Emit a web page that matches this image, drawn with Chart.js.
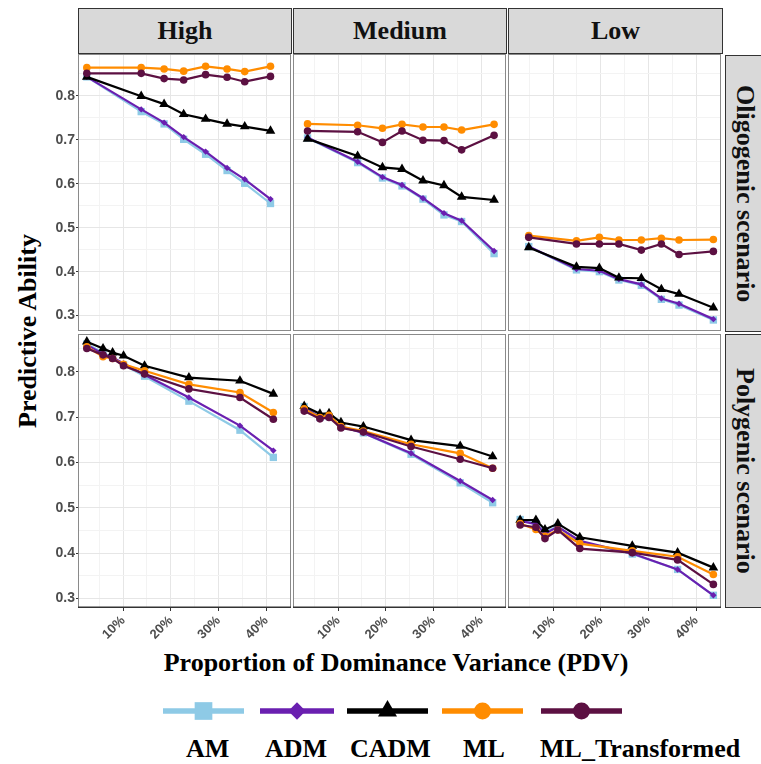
<!DOCTYPE html>
<html>
<head>
<meta charset="utf-8">
<script src="https://cdn.jsdelivr.net/npm/chart.js@4.4.0/dist/chart.umd.min.js"></script>
<style>
  body { margin: 0; background: #fff; }
  #page { position: relative; width: 761px; height: 764px; overflow: hidden; background: #fff; }
  canvas { position: absolute; }
  .strip {
    position: absolute; box-sizing: border-box; background: #d9d9d9; border: 1.5px solid #333;
    display: flex; align-items: center; justify-content: center;
    font: bold 26px "Liberation Serif", "Times New Roman", serif; color: #111;
  }
  .vstrip { writing-mode: vertical-rl; }
  .txt { position: absolute; font: bold 26px "Liberation Serif", "Times New Roman", serif; color: #000; white-space: nowrap; }
</style>
</head>
<body>
<div id="page">
  <div class="strip" style="left:78px;top:8px;width:214px;height:46px;">High</div>
  <div class="strip" style="left:293px;top:8px;width:214px;height:46px;">Medium</div>
  <div class="strip" style="left:508px;top:8px;width:215px;height:46px;">Low</div>
  <div class="strip vstrip" style="left:725px;top:55px;width:40px;height:277px;">Oligogenic scenario</div>
  <div class="strip vstrip" style="left:725px;top:334px;width:40px;height:274px;">Polygenic scenario</div>
  <div class="txt" style="left:13px;top:331px;transform:translate(0,-50%) rotate(180deg);writing-mode:vertical-rl;">Predictive Ability</div>
  <div class="txt" style="left:396px;top:663px;transform:translate(-50%,-50%);">Proportion of Dominance Variance (PDV)</div>
  <div class="txt" style="left:186px;top:734px;">AM</div>
  <div class="txt" style="left:265px;top:734px;">ADM</div>
  <div class="txt" style="left:350px;top:734px;">CADM</div>
  <div class="txt" style="left:463px;top:734px;">ML</div>
  <div class="txt" style="left:540px;top:734px;">ML_Transformed</div>
  <canvas id="legend" width="520" height="40" style="left:150px;top:691px;"></canvas>
</div>

<script>
// 値は図から読み取ったもの (x = PDV %, y = 予測能力)
const models = ["AM", "ADM", "CADM", "ML", "ML_Transformed"];

// Oligogenic - High
const pdvOH = [2.4, 13.8, 18.6, 22.7, 27.3, 31.8, 35.5, 40.9];
const amOH = [0.843, 0.764, 0.736, 0.701, 0.667, 0.630, 0.601, 0.555];
const admOH = [0.843, 0.769, 0.739, 0.706, 0.673, 0.636, 0.610, 0.565];
const cadmOH = [0.843, 0.799, 0.781, 0.758, 0.747, 0.736, 0.730, 0.720];
const mlOH = [0.864, 0.864, 0.861, 0.856, 0.867, 0.861, 0.855, 0.867];
const mltOH = [0.851, 0.851, 0.839, 0.836, 0.848, 0.842, 0.832, 0.844];

// Oligogenic - Medium
const pdvOM = [3.6, 14.1, 19.3, 23.4, 27.8, 32.2, 35.9, 42.7];
const amOM = [0.704, 0.648, 0.613, 0.595, 0.565, 0.529, 0.514, 0.441];
const admOM = [0.705, 0.650, 0.615, 0.597, 0.567, 0.533, 0.516, 0.447];
const cadmOM = [0.702, 0.663, 0.637, 0.633, 0.607, 0.596, 0.570, 0.563];
const mlOM = [0.736, 0.733, 0.726, 0.735, 0.729, 0.729, 0.722, 0.735];
const mltOM = [0.720, 0.718, 0.694, 0.720, 0.699, 0.698, 0.677, 0.710];

// Oligogenic - Low
const pdvOL = [4.9, 14.9, 19.7, 23.8, 28.5, 32.7, 36.4, 43.6];
const amOL = [0.457, 0.404, 0.400, 0.381, 0.369, 0.337, 0.324, 0.290];
const admOL = [0.457, 0.406, 0.402, 0.383, 0.371, 0.339, 0.327, 0.292];
const cadmOL = [0.455, 0.411, 0.408, 0.386, 0.385, 0.360, 0.349, 0.318];
const mlOL = [0.482, 0.470, 0.478, 0.472, 0.472, 0.476, 0.472, 0.473];
const mltOL = [0.478, 0.463, 0.463, 0.463, 0.449, 0.463, 0.439, 0.446];

// Polygenic - High
const pdvPH = [2.4, 5.8, 7.8, 10.1, 14.5, 23.8, 34.5, 41.5];
const amPH = [0.861, 0.842, 0.831, 0.815, 0.790, 0.735, 0.671, 0.611];
const admPH = [0.859, 0.839, 0.831, 0.818, 0.793, 0.743, 0.681, 0.626];
const cadmPH = [0.866, 0.851, 0.842, 0.835, 0.813, 0.787, 0.780, 0.751];
const mlPH = [0.855, 0.833, 0.829, 0.816, 0.802, 0.772, 0.754, 0.710];
const mltPH = [0.851, 0.837, 0.829, 0.813, 0.795, 0.762, 0.743, 0.695];

// Polygenic - Medium
const pdvPM = [2.9, 6.2, 8.1, 10.6, 15.3, 25.3, 35.6, 42.4];
const amPM = [0.723, 0.699, 0.701, 0.679, 0.665, 0.618, 0.555, 0.511];
const admPM = [0.721, 0.699, 0.701, 0.679, 0.665, 0.620, 0.559, 0.517];
const cadmPM = [0.724, 0.707, 0.708, 0.688, 0.679, 0.649, 0.636, 0.613];
const mlPM = [0.718, 0.699, 0.704, 0.679, 0.669, 0.640, 0.620, 0.587];
const mltPM = [0.713, 0.696, 0.699, 0.676, 0.667, 0.635, 0.607, 0.587];

// Polygenic - Low
const pdvPL = [3.1, 6.4, 8.3, 11.0, 15.6, 26.6, 36.1, 43.6];
const amPL = [0.474, 0.465, 0.447, 0.458, 0.425, 0.398, 0.364, 0.307];
const admPL = [0.471, 0.464, 0.443, 0.458, 0.427, 0.399, 0.364, 0.307];
const cadmPL = [0.473, 0.473, 0.452, 0.465, 0.435, 0.416, 0.401, 0.368];
const mlPL = [0.465, 0.452, 0.437, 0.451, 0.421, 0.405, 0.392, 0.353];
const mltPL = [0.462, 0.457, 0.432, 0.451, 0.410, 0.401, 0.385, 0.331];

// 軸の範囲と目盛り
const xRange = [0.55, 45.2];
const xTicks = [5, 10, 15, 20, 25, 30, 35, 40, 45];
const yRangeOligo = [0.265, 0.895];
const yRangePoly = [0.279, 0.883];
const yTicks = [0.25, 0.3, 0.35, 0.4, 0.45, 0.5, 0.55, 0.6, 0.65, 0.7, 0.75, 0.8, 0.85, 0.9];

// 見た目
const colors = ["#8ecae6", "#6a1fb0", "#000000", "#ff8c00", "#5c1042"];
const shapes = ["rect", "rectRot", "triangle", "circle", "circle"];
const radii = [5.2, 3.2, 5.6, 3.8, 3.8];

// パネルの位置（描画領域）
const colLeft = [78, 293, 508];
const panelW = 213;
const rowTop = [54, 334];
const rowH = [277, 274];
const xAxisH = 40;

const panels = [
  { row: 0, col: 0, x: pdvOH, s: [amOH, admOH, cadmOH, mlOH, mltOH] },
  { row: 0, col: 1, x: pdvOM, s: [amOM, admOM, cadmOM, mlOM, mltOM] },
  { row: 0, col: 2, x: pdvOL, s: [amOL, admOL, cadmOL, mlOL, mltOL] },
  { row: 1, col: 0, x: pdvPH, s: [amPH, admPH, cadmPH, mlPH, mltPH] },
  { row: 1, col: 1, x: pdvPM, s: [amPM, admPM, cadmPM, mlPM, mltPM] },
  { row: 1, col: 2, x: pdvPL, s: [amPL, admPL, cadmPL, mlPL, mltPL] },
];

const isMajorX = (v) => Math.round(v) % 10 === 0;
const isMajorY = (v) => Math.round(v * 100) % 10 === 0;

// パネル枠（と下段のx軸線）
const panelBorder = {
  id: "panelBorder",
  afterDatasetsDraw(chart, args, opts) {
    const { ctx, chartArea: a } = chart;
    ctx.save();
    ctx.strokeStyle = "#8a8a8a";
    ctx.lineWidth = 1;
    ctx.strokeRect(a.left + 0.5, a.top + 0.5, a.right - a.left - 1, a.bottom - a.top - 1);
    if (opts.axisLine) {
      ctx.strokeStyle = "#333";
      ctx.lineWidth = 1.5;
      ctx.beginPath();
      ctx.moveTo(a.left, a.bottom - 0.75);
      ctx.lineTo(a.right, a.bottom - 0.75);
      ctx.stroke();
    }
    ctx.restore();
  },
};

function makePanel(p) {
  const leftCol = p.col === 0;
  const bottomRow = p.row === 1;
  const yAxisW = leftCol ? colLeft[0] : 0;
  const canvas = document.createElement("canvas");
  canvas.width = yAxisW + panelW;
  canvas.height = rowH[p.row] + (bottomRow ? xAxisH : 0);
  canvas.style.left = (leftCol ? 0 : colLeft[p.col]) + "px";
  canvas.style.top = rowTop[p.row] + "px";
  document.getElementById("page").appendChild(canvas);

  const yRange = p.row === 0 ? yRangeOligo : yRangePoly;
  const datasets = models.map((m, k) => ({
    label: m,
    data: p.x.map((x, i) => ({ x: x, y: p.s[k][i] })),
    borderColor: colors[k],
    backgroundColor: colors[k],
    borderWidth: 2.2,
    pointStyle: shapes[k],
    pointRadius: radii[k],
    pointBorderWidth: 0,
    pointBackgroundColor: colors[k],
    tension: 0,
    order: 5 - k,
  }));

  new Chart(canvas, {
    type: "line",
    data: { datasets },
    options: {
      responsive: false,
      animation: false,
      devicePixelRatio: 1,
      layout: { padding: 0, autoPadding: false },
      plugins: { legend: { display: false }, tooltip: { enabled: false }, panelBorder: { axisLine: bottomRow } },
      scales: {
        x: {
          type: "linear",
          min: xRange[0],
          max: xRange[1],
          afterBuildTicks: (s) => { s.ticks = xTicks.map((v) => ({ value: v })); },
          afterFit: (s) => { s.height = bottomRow ? xAxisH : 0; s.paddingLeft = 0; s.paddingRight = 0; },
          border: { display: false },
          grid: {
            color: (c) => (c.tick && isMajorX(c.tick.value) ? "#e6e6e6" : "#f3f3f3"),
            tickColor: (c) => (c.tick && isMajorX(c.tick.value) ? "#333" : "rgba(0,0,0,0)"),
            drawTicks: bottomRow,
            tickLength: 3,
          },
          ticks: {
            display: bottomRow,
            autoSkip: false,
            minRotation: 45,
            maxRotation: 45,
            padding: 2,
            color: "#4d4d4d",
            font: { family: '"Liberation Sans", Arial, sans-serif', size: 13, weight: "bold" },
            callback: (v) => (isMajorX(v) ? Math.round(v) + "%" : ""),
          },
        },
        y: {
          min: yRange[0],
          max: yRange[1],
          afterBuildTicks: (s) => {
            s.ticks = yTicks.filter((v) => v >= yRange[0] && v <= yRange[1]).map((v) => ({ value: v }));
          },
          afterFit: (s) => { s.width = yAxisW; s.paddingTop = 0; s.paddingBottom = 0; },
          border: { display: false },
          grid: {
            color: (c) => (c.tick && isMajorY(c.tick.value) ? "#e6e6e6" : "#f3f3f3"),
            tickColor: (c) => (c.tick && isMajorY(c.tick.value) ? "#333" : "rgba(0,0,0,0)"),
            drawTicks: leftCol,
            tickLength: 2,
          },
          ticks: {
            display: leftCol,
            padding: 1,
            color: "#4d4d4d",
            font: { family: '"Liberation Sans", Arial, sans-serif', size: 14, weight: "bold" },
            callback: (v) => (isMajorY(v) ? v.toFixed(1) : ""),
          },
        },
      },
    },
    plugins: [panelBorder],
  });
}

panels.forEach(makePanel);

// 凡例（線 + マーカー）
function drawLegend() {
  const ctx = document.getElementById("legend").getContext("2d");
  const keyLeft = [13, 110, 197, 292, 391];
  const keyRight = [94, 184, 278, 373, 472];
  const legRadii = [12.5, 8.7, 11, 8.5, 8.5];
  const y = 20;
  models.forEach((m, k) => {
    ctx.strokeStyle = colors[k];
    ctx.fillStyle = colors[k];
    ctx.lineWidth = 5.5;
    ctx.beginPath();
    ctx.moveTo(keyLeft[k], y);
    ctx.lineTo(keyRight[k], y);
    ctx.stroke();
    Chart.helpers.drawPoint(ctx, { pointStyle: shapes[k], radius: legRadii[k], rotation: 0, borderWidth: 0 },
      (keyLeft[k] + keyRight[k]) / 2, y);
  });
}
drawLegend();
</script>
</body>
</html>
